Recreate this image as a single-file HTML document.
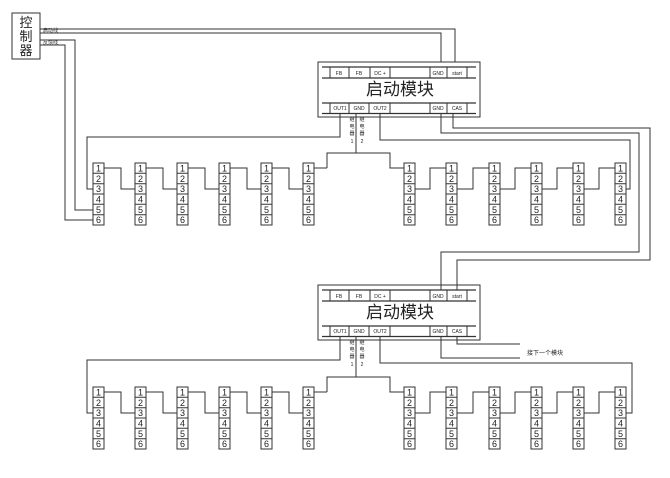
<!DOCTYPE html>
<html><head><meta charset="utf-8"><style>
html,body{margin:0;padding:0;background:#fff;}
svg{display:block;font-family:"Liberation Sans","Noto Sans CJK SC",sans-serif;}
.b text{font-size:9px;text-anchor:middle;}
.s{font-size:5px;}
</style></head><body>
<svg width="670" height="478" viewBox="0 0 670 478" fill="none" stroke="#333" stroke-width="1">
<defs>
<g id="blk"><rect x="0" y="0" width="11" height="62" fill="#fff"/><path d="M0 10.3H11M0 20.7H11M0 31H11M0 41.3H11M0 51.7H11"/></g>
<g id="mod">
<rect x="318" y="62" width="162" height="55" fill="#fff"/>
<path d="M322 67H476M322 78H476M322 103H476M322 113.5H476" stroke-width="1.3"/>
<path d="M330 67V78M349 67V78M370 67V78M390 67V78M430 67V78M447 67V78M467 67V78"/>
<path d="M330 103V113M349 103V113M369 103V113M390 103V113M430 103V113M447 103V113M467 103V113"/>
</g>
</defs>
<rect x="12" y="13" width="28" height="46"/>
<g fill="#222" stroke="none" font-size="13" text-anchor="middle">
<text x="26" y="27">控</text><text x="26" y="41">制</text><text x="26" y="55">器</text>
</g>
<g fill="#333" stroke="none" class="s"><text x="43" y="32">启动线</text><text x="43" y="44">反馈线</text></g>
<path d="M40 29H455V67M40 33H441V67M40 40H75V210H93M40 45H65V220H93"/>
<use href="#mod"/>
<use href="#mod" y="223"/>
<g fill="#222" stroke="none" font-size="5" text-anchor="middle">
<text x="339" y="75">FB</text><text x="359" y="75">FB</text><text x="380" y="75">DC +</text><text x="438" y="75">GND</text><text x="457" y="75">start</text>
<text x="340" y="110">OUT1</text><text x="359" y="110">GND</text><text x="380" y="110">OUT2</text><text x="438" y="110">GND</text><text x="457" y="110">CAS</text>
<text x="339" y="298">FB</text><text x="359" y="298">FB</text><text x="380" y="298">DC +</text><text x="438" y="298">GND</text><text x="457" y="298">start</text>
<text x="340" y="333">OUT1</text><text x="359" y="333">GND</text><text x="380" y="333">OUT2</text><text x="438" y="333">GND</text><text x="457" y="333">CAS</text>
</g>
<g fill="#222" stroke="none" font-size="17" text-anchor="middle">
<text x="400" y="95">启动模块</text><text x="400" y="318">启动模块</text>
</g>
<path d="M340 113V137H87V189H93"/>
<path d="M380 113V140H630V189H626"/>
<path d="M441 113V133H639V252H441V290"/>
<path d="M453 113V128H650V260H457V290"/>
<path d="M356 113V153M327 168V153H390V168H404M314 168H327"/>
<path d="M104 168H121V189H135M146 168H163V189H177M188 168H205V189H219M230 168H247V189H261M272 168H289V189H303"/>
<path d="M415 189H430V168H446M457 189H473V168H489M500 189H515V168H531M542 189H557V168H573M584 189H599V168H615"/>
<path d="M340 336V360H87V413H93"/>
<path d="M380 336V363H632V413H626"/>
<path d="M441 336V358H520M457 336V344H520"/>
<path d="M356 336V377M327 392V377H390V392H404M314 392H327"/>
<path d="M104 392H121V413H135M146 392H163V413H177M188 392H205V413H219M230 392H247V413H261M272 392H289V413H303"/>
<path d="M415 413H430V392H446M457 413H473V392H489M500 413H515V392H531M542 413H557V392H573M584 413H599V392H615"/>
<g fill="#222" stroke="none" font-size="6"><text x="527" y="355">接下一个模块</text></g>
<g fill="#222" stroke="none" font-size="5" text-anchor="middle">
<text x="352" y="121">继</text><text x="352" y="128">电</text><text x="352" y="135">器</text><text x="352" y="143">1</text>
<text x="362" y="121">继</text><text x="362" y="128">电</text><text x="362" y="135">器</text><text x="362" y="143">2</text>
<text x="352" y="344">继</text><text x="352" y="351">电</text><text x="352" y="358">器</text><text x="352" y="366">1</text>
<text x="362" y="344">继</text><text x="362" y="351">电</text><text x="362" y="358">器</text><text x="362" y="366">2</text>
</g>
<g class="b">
<g transform="translate(93,163)"><use href="#blk"/><g fill="#222" stroke="none"><text x="5.5" y="8.5">1</text><text x="5.5" y="18.8">2</text><text x="5.5" y="29.2">3</text><text x="5.5" y="39.5">4</text><text x="5.5" y="49.8">5</text><text x="5.5" y="60.2">6</text></g></g>
<g transform="translate(135,163)"><use href="#blk"/><g fill="#222" stroke="none"><text x="5.5" y="8.5">1</text><text x="5.5" y="18.8">2</text><text x="5.5" y="29.2">3</text><text x="5.5" y="39.5">4</text><text x="5.5" y="49.8">5</text><text x="5.5" y="60.2">6</text></g></g>
<g transform="translate(177,163)"><use href="#blk"/><g fill="#222" stroke="none"><text x="5.5" y="8.5">1</text><text x="5.5" y="18.8">2</text><text x="5.5" y="29.2">3</text><text x="5.5" y="39.5">4</text><text x="5.5" y="49.8">5</text><text x="5.5" y="60.2">6</text></g></g>
<g transform="translate(219,163)"><use href="#blk"/><g fill="#222" stroke="none"><text x="5.5" y="8.5">1</text><text x="5.5" y="18.8">2</text><text x="5.5" y="29.2">3</text><text x="5.5" y="39.5">4</text><text x="5.5" y="49.8">5</text><text x="5.5" y="60.2">6</text></g></g>
<g transform="translate(261,163)"><use href="#blk"/><g fill="#222" stroke="none"><text x="5.5" y="8.5">1</text><text x="5.5" y="18.8">2</text><text x="5.5" y="29.2">3</text><text x="5.5" y="39.5">4</text><text x="5.5" y="49.8">5</text><text x="5.5" y="60.2">6</text></g></g>
<g transform="translate(303,163)"><use href="#blk"/><g fill="#222" stroke="none"><text x="5.5" y="8.5">1</text><text x="5.5" y="18.8">2</text><text x="5.5" y="29.2">3</text><text x="5.5" y="39.5">4</text><text x="5.5" y="49.8">5</text><text x="5.5" y="60.2">6</text></g></g>
<g transform="translate(404,163)"><use href="#blk"/><g fill="#222" stroke="none"><text x="5.5" y="8.5">1</text><text x="5.5" y="18.8">2</text><text x="5.5" y="29.2">3</text><text x="5.5" y="39.5">4</text><text x="5.5" y="49.8">5</text><text x="5.5" y="60.2">6</text></g></g>
<g transform="translate(446,163)"><use href="#blk"/><g fill="#222" stroke="none"><text x="5.5" y="8.5">1</text><text x="5.5" y="18.8">2</text><text x="5.5" y="29.2">3</text><text x="5.5" y="39.5">4</text><text x="5.5" y="49.8">5</text><text x="5.5" y="60.2">6</text></g></g>
<g transform="translate(489,163)"><use href="#blk"/><g fill="#222" stroke="none"><text x="5.5" y="8.5">1</text><text x="5.5" y="18.8">2</text><text x="5.5" y="29.2">3</text><text x="5.5" y="39.5">4</text><text x="5.5" y="49.8">5</text><text x="5.5" y="60.2">6</text></g></g>
<g transform="translate(531,163)"><use href="#blk"/><g fill="#222" stroke="none"><text x="5.5" y="8.5">1</text><text x="5.5" y="18.8">2</text><text x="5.5" y="29.2">3</text><text x="5.5" y="39.5">4</text><text x="5.5" y="49.8">5</text><text x="5.5" y="60.2">6</text></g></g>
<g transform="translate(573,163)"><use href="#blk"/><g fill="#222" stroke="none"><text x="5.5" y="8.5">1</text><text x="5.5" y="18.8">2</text><text x="5.5" y="29.2">3</text><text x="5.5" y="39.5">4</text><text x="5.5" y="49.8">5</text><text x="5.5" y="60.2">6</text></g></g>
<g transform="translate(615,163)"><use href="#blk"/><g fill="#222" stroke="none"><text x="5.5" y="8.5">1</text><text x="5.5" y="18.8">2</text><text x="5.5" y="29.2">3</text><text x="5.5" y="39.5">4</text><text x="5.5" y="49.8">5</text><text x="5.5" y="60.2">6</text></g></g>
<g transform="translate(93,387)"><use href="#blk"/><g fill="#222" stroke="none"><text x="5.5" y="8.5">1</text><text x="5.5" y="18.8">2</text><text x="5.5" y="29.2">3</text><text x="5.5" y="39.5">4</text><text x="5.5" y="49.8">5</text><text x="5.5" y="60.2">6</text></g></g>
<g transform="translate(135,387)"><use href="#blk"/><g fill="#222" stroke="none"><text x="5.5" y="8.5">1</text><text x="5.5" y="18.8">2</text><text x="5.5" y="29.2">3</text><text x="5.5" y="39.5">4</text><text x="5.5" y="49.8">5</text><text x="5.5" y="60.2">6</text></g></g>
<g transform="translate(177,387)"><use href="#blk"/><g fill="#222" stroke="none"><text x="5.5" y="8.5">1</text><text x="5.5" y="18.8">2</text><text x="5.5" y="29.2">3</text><text x="5.5" y="39.5">4</text><text x="5.5" y="49.8">5</text><text x="5.5" y="60.2">6</text></g></g>
<g transform="translate(219,387)"><use href="#blk"/><g fill="#222" stroke="none"><text x="5.5" y="8.5">1</text><text x="5.5" y="18.8">2</text><text x="5.5" y="29.2">3</text><text x="5.5" y="39.5">4</text><text x="5.5" y="49.8">5</text><text x="5.5" y="60.2">6</text></g></g>
<g transform="translate(261,387)"><use href="#blk"/><g fill="#222" stroke="none"><text x="5.5" y="8.5">1</text><text x="5.5" y="18.8">2</text><text x="5.5" y="29.2">3</text><text x="5.5" y="39.5">4</text><text x="5.5" y="49.8">5</text><text x="5.5" y="60.2">6</text></g></g>
<g transform="translate(303,387)"><use href="#blk"/><g fill="#222" stroke="none"><text x="5.5" y="8.5">1</text><text x="5.5" y="18.8">2</text><text x="5.5" y="29.2">3</text><text x="5.5" y="39.5">4</text><text x="5.5" y="49.8">5</text><text x="5.5" y="60.2">6</text></g></g>
<g transform="translate(404,387)"><use href="#blk"/><g fill="#222" stroke="none"><text x="5.5" y="8.5">1</text><text x="5.5" y="18.8">2</text><text x="5.5" y="29.2">3</text><text x="5.5" y="39.5">4</text><text x="5.5" y="49.8">5</text><text x="5.5" y="60.2">6</text></g></g>
<g transform="translate(446,387)"><use href="#blk"/><g fill="#222" stroke="none"><text x="5.5" y="8.5">1</text><text x="5.5" y="18.8">2</text><text x="5.5" y="29.2">3</text><text x="5.5" y="39.5">4</text><text x="5.5" y="49.8">5</text><text x="5.5" y="60.2">6</text></g></g>
<g transform="translate(489,387)"><use href="#blk"/><g fill="#222" stroke="none"><text x="5.5" y="8.5">1</text><text x="5.5" y="18.8">2</text><text x="5.5" y="29.2">3</text><text x="5.5" y="39.5">4</text><text x="5.5" y="49.8">5</text><text x="5.5" y="60.2">6</text></g></g>
<g transform="translate(531,387)"><use href="#blk"/><g fill="#222" stroke="none"><text x="5.5" y="8.5">1</text><text x="5.5" y="18.8">2</text><text x="5.5" y="29.2">3</text><text x="5.5" y="39.5">4</text><text x="5.5" y="49.8">5</text><text x="5.5" y="60.2">6</text></g></g>
<g transform="translate(573,387)"><use href="#blk"/><g fill="#222" stroke="none"><text x="5.5" y="8.5">1</text><text x="5.5" y="18.8">2</text><text x="5.5" y="29.2">3</text><text x="5.5" y="39.5">4</text><text x="5.5" y="49.8">5</text><text x="5.5" y="60.2">6</text></g></g>
<g transform="translate(615,387)"><use href="#blk"/><g fill="#222" stroke="none"><text x="5.5" y="8.5">1</text><text x="5.5" y="18.8">2</text><text x="5.5" y="29.2">3</text><text x="5.5" y="39.5">4</text><text x="5.5" y="49.8">5</text><text x="5.5" y="60.2">6</text></g></g>
</g>
</svg>
</body></html>
